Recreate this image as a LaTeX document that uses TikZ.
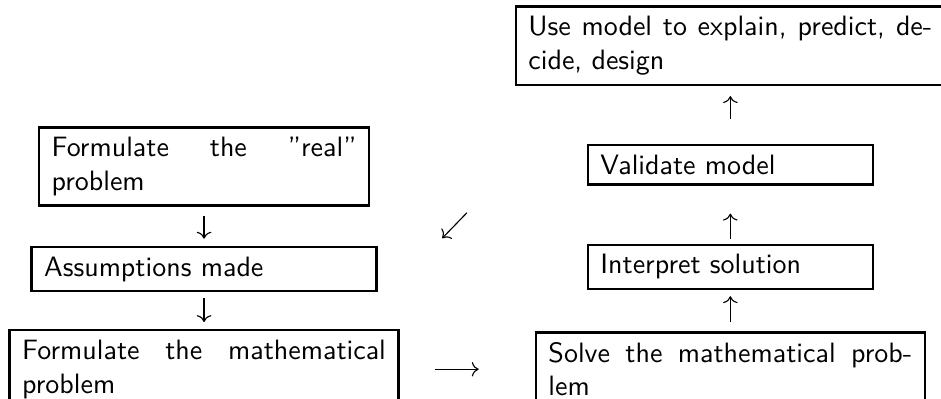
\documentclass[tikz,border=0pt]{standalone}
\usetikzlibrary{arrows.meta,positioning}

\begin{document}
\begin{tikzpicture}[
 box/.style={draw,line width=0.8pt,inner xsep=4.5pt,inner ysep=3.5pt,align=justify,font=\sffamily},
 arr/.style={-{To},line width=0.4pt}
]
\useasboundingbox (0,0) rectangle (11.81,-5.0);
\clip (0,0) rectangle (11.81,-5.0);
\node[box,text width=108.9pt] (real) at (2.561,-2.090) {Formulate the ''real'' \mbox{problem}};
\node[box,text width=114.2pt,below=0.49cm of real] (assum) {Assumptions made};
\node[box,text width=129.9pt,below=0.46cm of assum] (math) {Formulate the mathematical problem};
\node[box,text width=129.9pt,right=1.695cm of math] (solve) {Solve the mathematical prob\-lem};
\node[box,text width=92.8pt,above=0.515cm of solve] (interp) {Interpret solution};
\node[box,text width=92.8pt,above=0.728cm of interp] (valid) {Validate model};
\node[box,text width=144.2pt,above=0.728cm of valid] (use) {Use model to explain, predict, de\-cide, design};
\coordinate (back1) at (5.86,-2.67);
\coordinate (back2) at (5.55,-2.99);
\draw[arr,shorten <=3.5pt,shorten >=2.5pt] (real) -- (assum);
\draw[arr,shorten <=2.1pt,shorten >=2.5pt] (assum) -- (math);
\draw[arr,shorten <=12.5pt,shorten >=20pt] (math) -- (solve);
\draw[arr,shorten <=3.2pt,shorten >=2.1pt] (solve) -- (interp);
\draw[arr,shorten <=1.8pt,shorten >=10pt] (interp) -- (valid);
\draw[arr,shorten <=8.9pt,shorten >=3.6pt] (valid) -- (use);
\draw[arr] (back1) -- (back2);
\end{tikzpicture}
\end{document}
